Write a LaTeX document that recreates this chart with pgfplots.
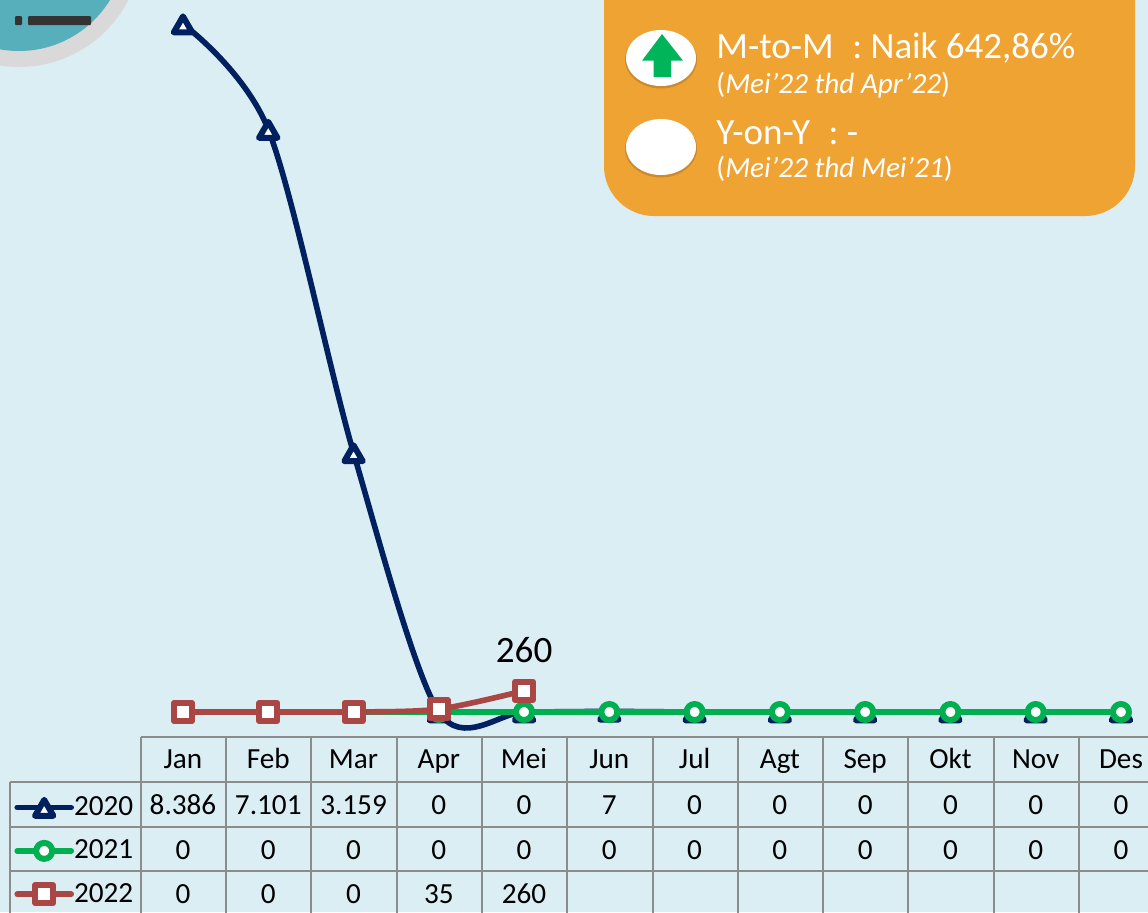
\documentclass[border=0pt]{standalone}
\usepackage{pgfplots}
\pgfplotsset{compat=1.18}
\usepackage{fontspec}
\setmainfont{Carlito}
\definecolor{bgc}{HTML}{DBEEF4}
\definecolor{navyc}{HTML}{002060}
\definecolor{greenc}{HTML}{00B050}
\definecolor{redc}{HTML}{AA4643}
\definecolor{orangec}{HTML}{EFA333}
\definecolor{tealc}{HTML}{56AFBA}
\definecolor{grayc}{HTML}{D9D9D9}
\definecolor{gridc}{HTML}{8C8C8C}
\newcommand\tfont{\fontsize{14.6}{17}\selectfont}
\begin{document}
\begin{tikzpicture}
\useasboundingbox (0,0) rectangle (574pt,-456pt);
\clip (0,0) rectangle (574pt,-456pt);
\begin{scope}[x=0.5pt,y=-0.5pt]
\fill[bgc] (0,0) rectangle (1148,912);
\fill[grayc] (19,-55.7) circle[radius=61.35pt];
\fill[tealc] (19,-55.7) circle[radius=53.35pt];
\fill[black!80,rounded corners=0.5pt] (15,16) rectangle (22,25);
\fill[black!80,rounded corners=0.5pt] (28,16) rectangle (91,25);
\fill[orangec,rounded corners=25pt] (604,-80) rectangle (1135,216);
% ellipses
\foreach \cy in {58,147}{
  \fill[black!60!orangec,opacity=.25] (661,\cy+1.5) ellipse[x radius=18pt,y radius=14.5pt];
  \fill[white] (661,\cy) ellipse[x radius=17.5pt,y radius=14pt];
}
\fill[greenc!95!cyan] (662,34) -- (683,60.7) -- (671,60.7) -- (671,77) -- (653.5,77) -- (653.5,60.7) -- (642,60.7) -- cycle;
\node[anchor=base west,inner sep=0pt,white,font=\fontsize{18.5}{20}\selectfont] at (716,58) {M-to-M\hspace{0.5em}: Naik 642,86\%};
\node[anchor=base west,inner sep=0pt,white,font=\fontsize{14.6}{16}\selectfont] at (716,93) {(\textit{Mei’22 thd Apr’22})};
\node[anchor=base west,inner sep=0pt,white,font=\fontsize{18.5}{20}\selectfont] at (716,144) {Y-on-Y\hspace{0.5em}: -};
\node[anchor=base west,inner sep=0pt,white,font=\fontsize{14.6}{16}\selectfont] at (716,177) {(\textit{Mei’22 thd Mei’21})};
% table grid
\begin{scope}[draw=gridc,line width=0.9pt]
\draw (141,737) -- (1160,737);
\draw (10,782) -- (1160,782);
\draw (10,827) -- (1160,827);
\draw (10,871) -- (1160,871);
\draw (10,782) -- (10,920);
\foreach \x in {141,226,311,397,482,567,653,738,823,908,994,1079}{
  \draw (\x,737) -- (\x,920);
}
\end{scope}
% table values
\newcommand\cell[3]{\node[font=\tfont,anchor=base,inner sep=0pt] at (183+85.27*#1,#2) {#3};}
\foreach \i/\v in {0/8.386,1/7.101,2/3.159,3/0,4/0,5/7,6/0,7/0,8/0,9/0,10/0,11/0}{\cell{\i}{814}{\v}}
\foreach \i/\v in {0/0,1/0,2/0,3/0,4/0,5/0,6/0,7/0,8/0,9/0,10/0,11/0}{\cell{\i}{859}{\v}}
\foreach \i/\v in {0/0,1/0,2/0,3/35,4/260}{\cell{\i}{903}{\v}}
\end{scope}
\begin{axis}[
  at={(0,0)},anchor=north west,
  scale only axis,width=574pt,height=456pt,
  xmin=-2.146,xmax=11.317,ymin=-2438,ymax=8679,
  clip=false,
  axis line style={draw=none},
  ytick=\empty,
  xtick={0,1,...,11},
  xticklabels={Jan,Feb,Mar,Apr,Mei,Jun,Jul,Agt,Sep,Okt,Nov,Des},
  major tick length=0pt,
  xticklabel style={font=\tfont,anchor=base,yshift=72pt},
  every axis plot/.append style={line width=2.8pt,line join=round,line cap=round},
  legend cell align=left,
  legend image code/.code={\draw[mark repeat=2,mark phase=2,#1] plot coordinates {(0pt,0pt)(13.5pt,0pt)(27pt,0pt)};},
  legend style={anchor=north west,at={(rel axis cs:0.0122,0.1304)},draw=none,fill=none,inner sep=0pt,font=\tfont,row sep=7.7pt,
    nodes={inner sep=0pt,text height=11pt,text depth=3pt},
    /tikz/every even column/.append style={column sep=0pt}},
]
\addplot[navyc,smooth,mark=triangle*,mark size=5.3pt,mark options={fill=white,draw=navyc,line width=3pt,line join=round,solid,yshift=-1.5pt}] coordinates {
(0,8386)(1,7101)(2,3159)(3,0)(4,0)(5,7)(6,0)(7,0)(8,0)(9,0)(10,0)(11,0)};
\addlegendentry{2020}
\addplot[greenc,mark=*,mark size=4pt,mark options={fill=white,draw=greenc,line width=3pt}] coordinates {
(0,0)(1,0)(2,0)(3,0)(4,0)(5,0)(6,0)(7,0)(8,0)(9,0)(10,0)(11,0)};
\addlegendentry{2021}
\addplot[redc,smooth,mark=square*,mark size=4.5pt,mark options={fill=white,draw=redc,line width=3pt,line join=round}] coordinates {
(0,0)(1,0)(2,0)(3,35)(4,260)} node[pos=1,yshift=20.5pt,font=\fontsize{18.6}{22}\selectfont,text=black] {260};
\addlegendentry{2022}
\end{axis}
\end{tikzpicture}
\end{document}
